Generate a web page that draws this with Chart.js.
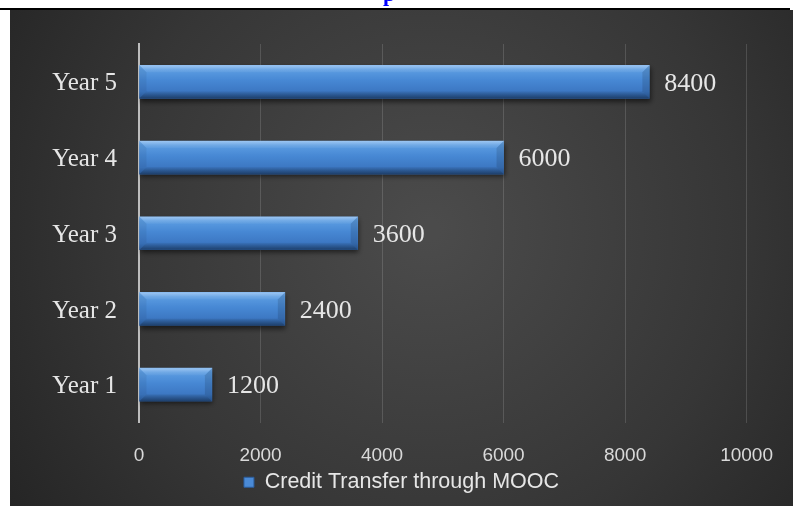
<!DOCTYPE html>
<html>
<head>
<meta charset="utf-8">
<script src="https://cdn.jsdelivr.net/npm/chart.js@4.4.1/dist/chart.umd.min.js"></script>
<style>
  html, body { margin: 0; padding: 0; background: #fff; }
  #wrap { position: relative; width: 795px; height: 506px; overflow: hidden; }
  #myChart { position: absolute; left: 0; top: 0; }
  #head {
    position: absolute; left: 383px; top: -17px;
    font: bold 22px/22px "Liberation Serif", serif; color: #0000ff;
  }
</style>
</head>
<body>
<div id="wrap">
  <canvas id="myChart" width="795" height="506"></canvas>
  <div id="head">p</div>
</div>
<script>
// 데이터
const years = ['Year 1', 'Year 2', 'Year 3', 'Year 4', 'Year 5'];
const credits = [1200, 2400, 3600, 6000, 8400];
const seriesName = 'Credit Transfer through MOOC';
const xMin = 0;
const xMax = 10000;
const xStep = 2000;

const BAR = 33;

// 배경 (어두운 방사형 그라데이션 + 위쪽 검은 선)
const backdrop = {
    id: 'backdrop',
    beforeDraw(chart) {
        const ctx = chart.ctx;
        ctx.save();
        ctx.fillStyle = '#000';
        ctx.fillRect(0, 8, 790, 2);
        const g = ctx.createRadialGradient(430, 230, 10, 430, 230, 560);
        g.addColorStop(0, '#4b4b4b');
        g.addColorStop(0.55, '#363636');
        g.addColorStop(1, '#202020');
        ctx.fillStyle = g;
        ctx.fillRect(10, 10, 783, 496);
        ctx.restore();
    }
};

// 막대 그림자, 입체 모서리, 값 라벨
const bevel = {
    id: 'bevel',
    beforeDatasetsDraw(chart) {
        const ctx = chart.ctx;
        ctx.save();
        ctx.shadowColor = 'rgba(0,0,0,0.55)';
        ctx.shadowBlur = 5;
        ctx.shadowOffsetX = 1;
        ctx.shadowOffsetY = 3;
    },
    afterDatasetsDraw(chart) {
        const ctx = chart.ctx;
        ctx.restore();
        const meta = chart.getDatasetMeta(0);
        const b = 7;
        ctx.save();
        meta.data.forEach((bar, i) => {
            const left = bar.base, right = bar.x;
            const top = bar.y - bar.height / 2, bottom = bar.y + bar.height / 2;
            // 윗면
            const tg = ctx.createLinearGradient(0, top, 0, top + b);
            tg.addColorStop(0, 'rgba(255,255,255,0.25)');
            tg.addColorStop(1, 'rgba(255,255,255,0.04)');
            ctx.fillStyle = tg;
            ctx.beginPath();
            ctx.moveTo(left, top); ctx.lineTo(right, top);
            ctx.lineTo(right - b, top + b); ctx.lineTo(left + b, top + b);
            ctx.closePath(); ctx.fill();
            // 아랫면
            const bg = ctx.createLinearGradient(0, bottom - b, 0, bottom);
            bg.addColorStop(0, 'rgba(0,0,0,0.05)');
            bg.addColorStop(1, 'rgba(0,0,0,0.3)');
            ctx.fillStyle = bg;
            ctx.beginPath();
            ctx.moveTo(left + b, bottom - b); ctx.lineTo(right - b, bottom - b);
            ctx.lineTo(right, bottom); ctx.lineTo(left, bottom);
            ctx.closePath(); ctx.fill();
            // 오른쪽 면
            ctx.fillStyle = 'rgba(0,0,0,0.12)';
            ctx.beginPath();
            ctx.moveTo(right - b, top + b); ctx.lineTo(right, top);
            ctx.lineTo(right, bottom); ctx.lineTo(right - b, bottom - b);
            ctx.closePath(); ctx.fill();
            // 왼쪽 면
            ctx.fillStyle = 'rgba(0,0,0,0.06)';
            ctx.beginPath();
            ctx.moveTo(left, top); ctx.lineTo(left + b, top + b);
            ctx.lineTo(left + b, bottom - b); ctx.lineTo(left, bottom);
            ctx.closePath(); ctx.fill();

            // 값 라벨
            ctx.fillStyle = '#e6e6e6';
            ctx.font = '26px "Liberation Serif", serif';
            ctx.textAlign = 'left';
            ctx.textBaseline = 'middle';
            ctx.fillText(String(credits[i]), right + 15, bar.y + 2);
        });
        ctx.restore();
    }
};

function barFill(c) {
    const chart = c.chart;
    const y = chart.scales.y;
    if (!y || !chart.chartArea || c.dataIndex === undefined) return '#4a8ad6';
    const mid = y.getPixelForValue(c.dataIndex);
    const g = chart.ctx.createLinearGradient(0, mid - BAR / 2, 0, mid + BAR / 2);
    g.addColorStop(0, '#7ab2ee');
    g.addColorStop(0.12, '#5c9de2');
    g.addColorStop(0.45, '#4788d4');
    g.addColorStop(0.8, '#3c77c2');
    g.addColorStop(1, '#2b5c9c');
    return g;
}

let ctx = document.getElementById('myChart');

let myChart = new Chart(ctx, {
    type: 'bar',
    data: {
        labels: years,
        datasets: [{
            label: seriesName,
            data: credits,
            backgroundColor: barFill,
            borderWidth: 0,
            barThickness: BAR
        }]
    },
    plugins: [backdrop, bevel],
    options: {
        indexAxis: 'y',
        responsive: false,
        animation: false,
        devicePixelRatio: 1,
        layout: {
            padding: { top: 44, left: 10, right: 2, bottom: 3 }
        },
        scales: {
            x: {
                min: xMin,
                max: xMax,
                ticks: {
                    stepSize: xStep,
                    color: '#d9d9d9',
                    padding: 22,
                    font: { family: '"Liberation Sans", sans-serif', size: 19 },
                    callback: (v) => String(v)
                },
                grid: {
                    color: 'rgba(255,255,255,0.14)',
                    lineWidth: 1,
                    drawTicks: false
                },
                border: { display: false },
                afterFit(scale) { scale.height = 39; }
            },
            y: {
                reverse: true,
                ticks: {
                    color: '#e6e6e6',
                    padding: 22,
                    labelOffset: 2,
                    font: { family: '"Liberation Serif", serif', size: 25 }
                },
                grid: { display: false, drawTicks: false },
                border: { display: true, color: '#bdbdbd', width: 2 },
                afterFit(scale) { scale.width = 129; }
            },
            // 오른쪽 여백용 빈 축
            side: {
                type: 'linear',
                position: 'right',
                display: true,
                ticks: { display: false },
                grid: { display: false, drawTicks: false },
                border: { display: false },
                afterFit(scale) { scale.width = 45; }
            }
        },
        plugins: {
            legend: {
                position: 'bottom',
                labels: {
                    color: '#e6e6e6',
                    boxWidth: 10,
                    boxHeight: 10,
                    padding: 10,
                    font: { family: '"Liberation Sans", sans-serif', size: 21.5 },
                    generateLabels(chart) {
                        return [{
                            text: seriesName,
                            fillStyle: '#4a8ad6',
                            strokeStyle: '#2b5c9c',
                            lineWidth: 1,
                            fontColor: '#e6e6e6',
                            datasetIndex: 0
                        }];
                    }
                }
            },
            tooltip: { enabled: false }
        }
    }
});
</script>
</body>
</html>
